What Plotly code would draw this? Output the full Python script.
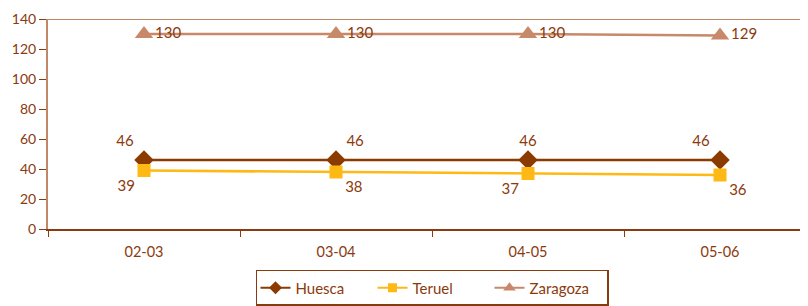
import plotly.graph_objects as go

categories = ["02-03", "03-04", "04-05", "05-06"]
huesca = [46, 46, 46, 46]
teruel = [39, 38, 37, 36]
zaragoza = [130, 130, 130, 129]
y_ticks = [0, 20, 40, 60, 80, 100, 120, 140]

TXT = "#8B3A0E"
FONT = "Lato"

series = [
    ("Huesca", huesca, "#8B3A00", "diamond", 15, 10,
     ["top left", "top right", "top center", "top left"]),
    ("Teruel", teruel, "#FFB914", "square", 13, 9,
     ["bottom left", "bottom right", "bottom left", "bottom right"]),
    ("Zaragoza", zaragoza, "#C8896A", "triangle-up", 16, 11,
     ["middle right"] * 4),
]

fig = go.Figure()
for name, vals, color, sym, msize, lsize, tpos in series:
    fig.add_trace(go.Scatter(
        x=categories, y=vals, name=name, mode="lines+markers+text",
        line=dict(color=color, width=2.5),
        marker=dict(symbol=sym, size=msize, color=color),
        text=[str(v) for v in vals], textposition=tpos,
        textfont=dict(color=TXT, size=15, family=FONT),
        showlegend=False, legendgroup=name,
    ))
for name, vals, color, sym, msize, lsize, tpos in series:
    fig.add_trace(go.Scatter(
        x=[None], y=[None], name=name, mode="lines+markers",
        line=dict(color=color, width=2),
        marker=dict(symbol=sym, size=lsize, color=color),
        showlegend=True, legendgroup=name,
    ))

fig.add_shape(type="line", xref="paper", yref="y", x0=0, x1=1,
              y0=y_ticks[-1], y1=y_ticks[-1],
              line=dict(color="#C08866", width=2), layer="below")

fig.update_layout(
    width=808, height=306,
    margin=dict(l=40, r=0, t=11, b=85, autoexpand=False),
    paper_bgcolor="white", plot_bgcolor="white",
    font=dict(family=FONT, color=TXT, size=13),
    showlegend=True,
    legend=dict(orientation="h", x=0.5, xanchor="center", y=-0.195, yanchor="top",
                bordercolor="#8B3A0E", borderwidth=1.5,
                font=dict(size=15, color=TXT, family=FONT),
                entrywidth=72, entrywidthmode="pixels",
                tracegroupgap=0),
)
fig.update_xaxes(
    type="category", range=[-0.5, 3.5], automargin=False,
    showgrid=False, showline=True, linecolor="#8B3A0E", linewidth=2,
    ticks="outside", tickson="boundaries", ticklen=6, tickcolor="#8B3A0E", tickwidth=1,
    tickfont=dict(size=14.5, color=TXT), zeroline=False, ticklabelstandoff=9,
)
fig.update_yaxes(
    range=[0, 140], tickvals=y_ticks, showgrid=False, zeroline=False, automargin=False,
    showline=True, linecolor="#C08866", linewidth=2,
    ticks="outside", ticklen=7, tickcolor="#8B3A0E", tickwidth=1,
    tickfont=dict(size=14, color=TXT),
)

fig.write_html("out.html")
